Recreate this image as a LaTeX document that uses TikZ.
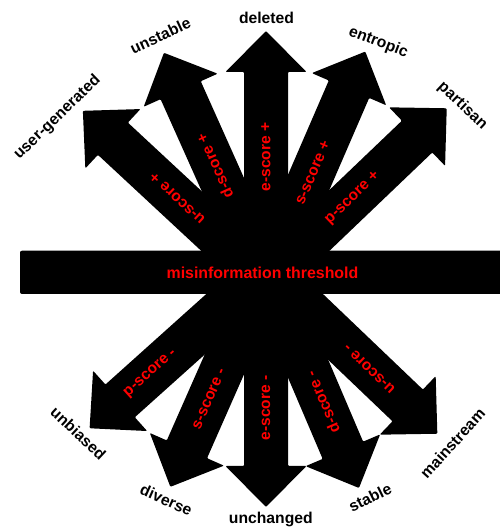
\documentclass[tikz,border=0pt]{standalone}
\usepackage{fontspec}
\setmainfont{Liberation Sans}
\usepackage{tikz}

\begin{document}
\begin{tikzpicture}[x=1pt,y=1pt,
    outlabel/.style={inner sep=0pt, font=\bfseries\fontsize{15.7}{18}\selectfont},
    scorelabel/.style={inner sep=0pt, text=red, font=\bfseries\fontsize{15.5}{18}\selectfont}]
  \useasboundingbox (0,0) rectangle (499,531);
  \coordinate (up) at (266,250);
  \coordinate (down) at (266,261);
  % arrows above the threshold
  \fill[shift={(up)}, rotate=43.7, rounded corners=1pt] (0,-22) -- (209,-22) -- (209,-40.5) -- (250,0) -- (209,40.5) -- (209,22) -- (0,22) -- cycle;
  \fill[shift={(up)}, rotate=66.6, rounded corners=1pt] (0,-22) -- (209,-22) -- (209,-40.5) -- (250,0) -- (209,40.5) -- (209,22) -- (0,22) -- cycle;
  \fill[shift={(up)}, rotate=90, rounded corners=1pt] (0,-22) -- (209,-22) -- (209,-40.5) -- (250,0) -- (209,40.5) -- (209,22) -- (0,22) -- cycle;
  \fill[shift={(up)}, rotate=114.1, rounded corners=1pt] (0,-22) -- (209,-22) -- (209,-40.5) -- (250,0) -- (209,40.5) -- (209,22) -- (0,22) -- cycle;
  \fill[shift={(up)}, rotate=137.1, rounded corners=1pt] (0,-22) -- (209,-22) -- (209,-40.5) -- (250,0) -- (209,40.5) -- (209,22) -- (0,22) -- cycle;
  % arrows below the threshold
  \fill[shift={(down)}, rotate=221.9, rounded corners=1pt] (0,-22) -- (196,-22) -- (196,-40.5) -- (237,0) -- (196,40.5) -- (196,22) -- (0,22) -- cycle;
  \fill[shift={(down)}, rotate=246.2, rounded corners=1pt] (0,-22) -- (196,-22) -- (196,-40.5) -- (237,0) -- (196,40.5) -- (196,22) -- (0,22) -- cycle;
  \fill[shift={(down)}, rotate=270, rounded corners=1pt] (0,-22) -- (196,-22) -- (196,-40.5) -- (237,0) -- (196,40.5) -- (196,22) -- (0,22) -- cycle;
  \fill[shift={(down)}, rotate=293.1, rounded corners=1pt] (0,-22) -- (196,-22) -- (196,-40.5) -- (237,0) -- (196,40.5) -- (196,22) -- (0,22) -- cycle;
  \fill[shift={(down)}, rotate=316.3, rounded corners=1pt] (0,-22) -- (196,-22) -- (196,-40.5) -- (237,0) -- (196,40.5) -- (196,22) -- (0,22) -- cycle;
  % threshold bar
  \fill[rounded corners=2pt] (20,237) rectangle (506,280.3);
  \node[scorelabel, font=\bfseries\fontsize{15.9}{18}\selectfont] (threshold) at (262.5,258.3) {misinformation threshold};
  % scores
  \node[scorelabel, rotate=43.7] (pplus) at ([shift={(43.7:120)}]up) {p-score +};
  \node[scorelabel, rotate=66.6] (splus) at ([shift={(66.6:118)}]up) {s-score +};
  \node[scorelabel, rotate=90] (eplus) at ([shift={(90:124)}]up) {e-score +};
  \node[scorelabel, rotate=114.1] (dplus) at ([shift={(114.1:126)}]up) {d-score +};
  \node[scorelabel, rotate=137.1] (uplus) at ([shift={(137.1:121)}]up) {u-score +};
  \node[scorelabel, rotate=41.9] (pminus) at ([shift={(221.9:155)}]down) {p-score -};
  \node[scorelabel, rotate=66.2] (sminus) at ([shift={(246.2:141)}]down) {s-score -};
  \node[scorelabel, rotate=90] (eminus) at ([shift={(270:138)}]down) {e-score -};
  \node[scorelabel, rotate=113.1] (dminus) at ([shift={(293.1:144)}]down) {d-score -};
  \node[scorelabel, rotate=136.3] (uminus) at ([shift={(316.3:143)}]down) {u-score -};
  % outcomes
  \node[outlabel] (deleted) at (266.5,512.7) {deleted};
  \node[outlabel, rotate=25] (unstable) at (160.3,495.2) {unstable};
  \node[outlabel, rotate=44] (usergen) at (57.5,413.5) {user-generated};
  \node[outlabel, rotate=-21] (entropic) at (378.3,488.5) {entropic};
  \node[outlabel, rotate=-43] (partisan) at (462.5,425.2) {partisan};
  \node[outlabel, rotate=-43] (unbiased) at (78.3,97.7) {unbiased};
  \node[outlabel, rotate=-24] (diverse) at (166.3,31) {diverse};
  \node[outlabel] (unchanged) at (270.8,11.7) {unchanged};
  \node[outlabel, rotate=26] (stable) at (370,33.5) {stable};
  \node[outlabel, rotate=48] (mainstream) at (452.5,87.7) {mainstream};
\end{tikzpicture}
\end{document}
